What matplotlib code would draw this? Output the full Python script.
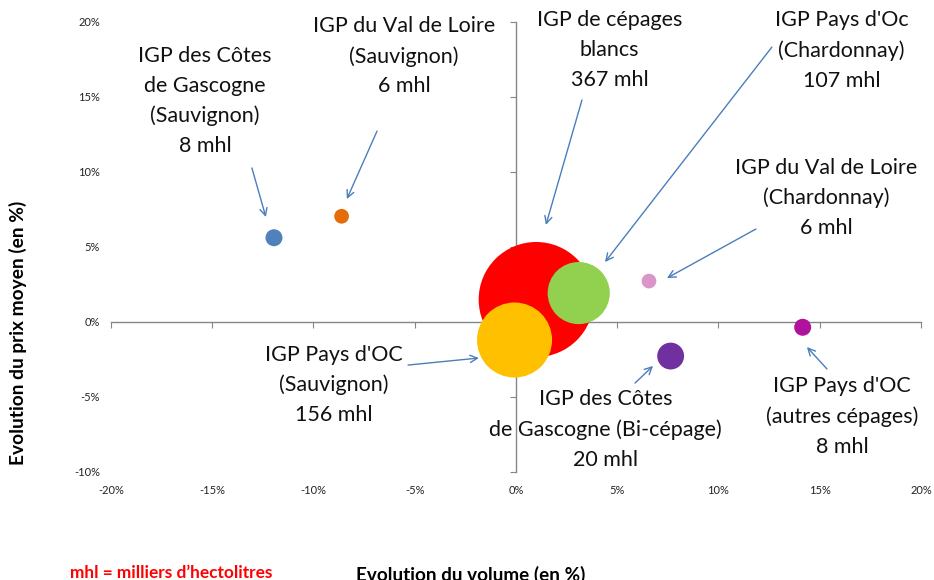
import matplotlib
matplotlib.use('Agg')
import matplotlib.pyplot as plt

plt.rcParams['font.family'] = ['Lato', 'DejaVu Sans']

# bubbles: volume change (%), price change (%), volume (mhl)
names = ['Cépages blancs', 'Oc Chardonnay', 'Oc Sauvignon', 'Loire Chardonnay',
         'Gascogne Bi-cépage', 'Oc autres', 'Gascogne Sauvignon', 'Loire Sauvignon']
vol_chg = [1.0, 3.1, -0.07, 6.57, 7.64, 14.16, -11.95, -8.61]
prix_chg = [1.5, 1.93, -1.2, 2.73, -2.27, -0.35, 5.62, 7.05]
volumes = [367, 107, 156, 6, 20, 8, 8, 6]
colors = ['#ff0000', '#92d050', '#ffc000', '#da96c8', '#7030a0', '#b0139b', '#4f81bd', '#e46c0a']

labels = ["IGP de cépages\nblancs\n367 mhl",
          "IGP Pays d'Oc\n(Chardonnay)\n107 mhl",
          "IGP Pays d'OC\n(Sauvignon)\n156 mhl",
          "IGP du Val de Loire\n(Chardonnay)\n6 mhl",
          "IGP des Côtes\nde Gascogne (Bi-cépage)\n20 mhl",
          "IGP Pays d'OC\n(autres cépages)\n8 mhl",
          "IGP des Côtes\nde Gascogne\n(Sauvignon)\n8 mhl",
          "IGP du Val de Loire\n(Sauvignon)\n6 mhl"]
label_x = [4.62, 16.07, -9.01, 15.33, 4.44, 16.1, -15.36, -5.53]
label_y = [18.13, 18.1, -4.2, 8.27, -7.17, -6.3, 14.73, 17.73]
arrow_from = [(3.26, 14.8), (12.64, 18.33), (-5.33, -2.87), (11.85, 6.2),
              (5.88, -4.07), (15.36, -3.13), (-13.04, 10.27), (-6.86, 12.73)]
arrow_to = [(1.48, 6.47), (4.40, 4.0), (-1.83, -2.4), (7.46, 2.93),
            (6.77, -2.93), (14.37, -1.67), (-12.35, 7.0), (-8.35, 8.2)]

xticks = [-20, -15, -10, -5, 0, 5, 10, 15, 20]
yticks = [-10, -5, 0, 5, 10, 15, 20]

fig = plt.figure(figsize=(9.34, 5.8), dpi=100)
ax = fig.add_axes([0.1188, 0.1862, 0.8672, 0.7758])

size_k = 18.7
ax.scatter(vol_chg, prix_chg, s=[v * size_k for v in volumes], c=colors,
           linewidths=0, zorder=3)

for i in range(len(labels)):
    ax.text(label_x[i], label_y[i], labels[i], ha='center', va='center',
            fontsize=15.5, linespacing=1.6, color='#111111', zorder=5)
    ax.annotate('', xy=arrow_to[i], xytext=arrow_from[i],
                arrowprops=dict(arrowstyle='->', color='#4a7ebb', lw=1,
                                mutation_scale=13, shrinkA=0, shrinkB=0),
                zorder=4)

ax.set_xlim(-20, 20)
ax.set_ylim(-10, 20)
for s in ['top', 'right']:
    ax.spines[s].set_visible(False)
ax.spines['left'].set_position(('data', 0))
ax.spines['bottom'].set_position(('data', 0))
for s in ['left', 'bottom']:
    ax.spines[s].set_color('#868686')
    ax.spines[s].set_linewidth(1)
    ax.spines[s].set_zorder(1)
ax.set_xticks(xticks)
ax.set_yticks(yticks)
ax.tick_params(length=4, color='#868686', labelleft=False, labelbottom=False)

for t in xticks:
    ax.text(t, -0.04, '%d%%' % t, transform=ax.get_xaxis_transform(),
            ha='center', va='center', fontsize=8, color='#222222')
for t in yticks:
    ax.text(-0.0136, t, '%d%%' % t, transform=ax.get_yaxis_transform(),
            ha='right', va='center', fontsize=8, color='#222222')

fig.text(18 / 934, 1 - 333 / 580, 'Evolution du prix moyen (en %)', rotation=90,
         ha='center', va='center', fontsize=13.8, fontweight='bold')
fig.text(471 / 934, 1 - 575 / 580, 'Evolution du volume (en %)',
         ha='center', va='center', fontsize=13.6, fontweight='bold')
fig.text(171 / 934, 1 - 573 / 580, 'mhl = milliers d\u2019hectolitres',
         ha='center', va='center', fontsize=12.4, fontweight='bold', color='#ff0000')

fig.savefig('out.png', dpi=100)
